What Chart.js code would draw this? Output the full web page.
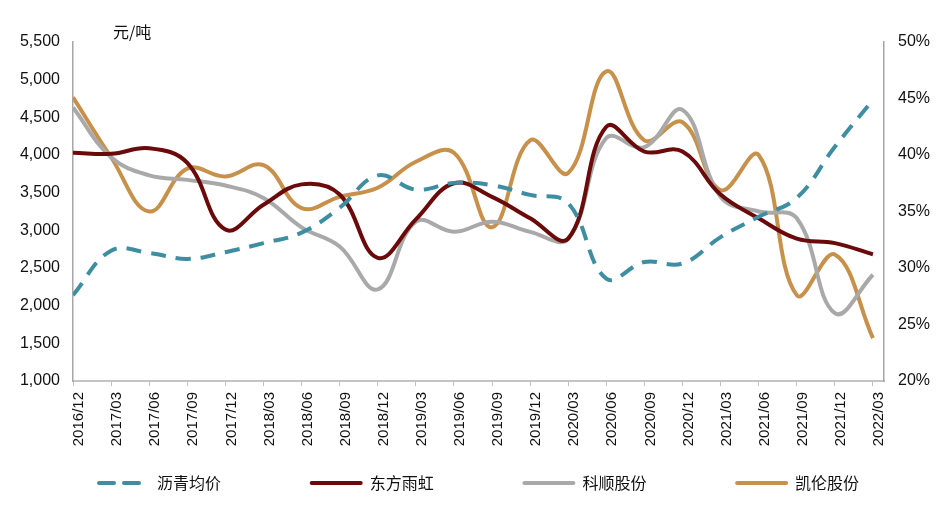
<!DOCTYPE html>
<html>
<head>
<meta charset="utf-8">
<script src="https://cdn.jsdelivr.net/npm/chart.js@4.4.1/dist/chart.umd.min.js"></script>
<style>
  body { margin: 0; background: #fff; }
  #contenedor { width: 947px; height: 506px; position: relative; }
</style>
</head>
<body>
<div id="contenedor"><canvas id="grafico"></canvas></div>
<script>
// Datos
const etiquetas = ['2016/12', '2017/03', '2017/06', '2017/09', '2017/12', '2018/03', '2018/06', '2018/09',
    '2018/12', '2019/03', '2019/06', '2019/09', '2019/12', '2020/03', '2020/06', '2020/09', '2020/12',
    '2021/03', '2021/06', '2021/09', '2021/12', '2022/03'];

const nombres = ['沥青均价', '东方雨虹', '科顺股份', '凯伦股份'];

// 元/吨, eje izquierdo
const precioAsfalto = [2140, 2730, 2700, 2620, 2710, 2830, 2970, 3300, 3730, 3540, 3630, 3600, 3470, 3360,
    2360, 2580, 2560, 2910, 3180, 3430, 4110, 4730];

// margen bruto %, eje derecho
const dongfangYuhong = [40.2, 40.1, 40.6, 39.3, 33.4, 35.6, 37.4, 36.5, 30.9, 34.3, 37.5, 36.3, 34.4, 32.6,
    42.5, 40.3, 40.3, 36.5, 34.4, 32.6, 32.2, 31.2];
const keshun = [44.2, 39.8, 38.2, 37.8, 37.3, 36.2, 33.6, 31.9, 28.1, 34.1, 33.2, 34.1, 33.2, 32.6,
    41.5, 40.7, 44.0, 36.3, 35.0, 34.4, 26.0, 29.4];
const kailun = [45.1, 39.8, 35.0, 38.8, 38.1, 39.1, 35.3, 36.3, 37.1, 39.4, 40.2, 33.6, 41.3, 38.4,
    47.4, 41.3, 42.9, 36.9, 40.0, 27.6, 31.2, 23.8];

const colores = ['#3d8ea2', '#6b0a0a', '#a9a9a9', '#c8914b'];

const fuenteLatina = "'Liberation Sans', Arial, sans-serif";
const fuenteCJK = "'Noto Sans CJK SC', sans-serif";

function puntos(arr) {
    return arr.map((v, i) => ({ x: i, y: v }));
}

// Texto de unidad y leyenda dibujados en el canvas
const pluginExtras = {
    id: 'extras',
    afterDraw(chart) {
        const ctx = chart.ctx;
        ctx.save();
        ctx.fillStyle = '#111';
        ctx.font = '16px ' + fuenteCJK;
        ctx.textBaseline = 'middle';
        ctx.textAlign = 'left';
        ctx.fillText('元/吨', 113, 32);

        chart.data.datasets.forEach((ds, i) => {
            const x0 = 97 + i * 212.7;
            const y = 483;
            ctx.beginPath();
            ctx.strokeStyle = ds.borderColor;
            ctx.lineWidth = 4;
            ctx.lineCap = 'round';
            ctx.setLineDash(ds.borderDash || []);
            ctx.moveTo(x0 + 2, y);
            ctx.lineTo(x0 + 51, y);
            ctx.stroke();
            ctx.setLineDash([]);
            ctx.fillStyle = '#111';
            ctx.fillText(ds.label, x0 + 60, y);
        });
        ctx.restore();
    }
};

const grafico = new Chart(document.getElementById('grafico'), {
    type: 'line',
    data: {
        datasets: [
            {
                label: nombres[0],
                data: puntos(precioAsfalto),
                yAxisID: 'y',
                borderColor: colores[0],
                borderDash: [15, 10],
                borderWidth: 4
            },
            {
                label: nombres[1],
                data: puntos(dongfangYuhong),
                yAxisID: 'y1',
                borderColor: colores[1],
                borderWidth: 4
            },
            {
                label: nombres[2],
                data: puntos(keshun),
                yAxisID: 'y1',
                borderColor: colores[2],
                borderWidth: 4
            },
            {
                label: nombres[3],
                data: puntos(kailun),
                yAxisID: 'y1',
                borderColor: colores[3],
                borderWidth: 4
            }
        ]
    },
    options: {
        responsive: true,
        maintainAspectRatio: false,
        animation: false,
        layout: { padding: { top: 42, left: 0, right: 0, bottom: 0 } },
        elements: {
            point: { radius: 0, hoverRadius: 0 },
            line: { tension: 0.4, fill: false }
        },
        scales: {
            x: {
                type: 'linear',
                min: 0,
                max: 21.29,
                afterBuildTicks: (scale) => {
                    scale.ticks = etiquetas.map((_, i) => ({ value: i }));
                },
                afterFit: (scale) => { scale.height = 125; },
                ticks: {
                    autoSkip: false,
                    maxRotation: 90,
                    minRotation: 90,
                    labelOffset: 6,
                    padding: 6,
                    color: '#111',
                    font: { family: fuenteLatina, size: 15 },
                    callback: (value) => etiquetas[value]
                },
                grid: {
                    drawOnChartArea: false,
                    drawTicks: true,
                    tickLength: 5,
                    color: '#bfbfbf'
                },
                border: { display: true, color: '#c4c4c4', width: 2 }
            },
            y: {
                position: 'left',
                min: 1000,
                max: 5500,
                afterBuildTicks: (scale) => {
                    const t = [];
                    for (let v = 1000; v <= 5500; v += 500) t.push({ value: v });
                    scale.ticks = t;
                },
                afterFit: (scale) => { scale.width = 73; },
                ticks: {
                    padding: 13,
                    color: '#111',
                    font: { family: fuenteLatina, size: 16 },
                    callback: (value) => value.toLocaleString('en-US')
                },
                grid: { display: true, drawOnChartArea: false, drawTicks: false },
                border: { display: true, color: '#a6a6a6', width: 1.5 }
            },
            y1: {
                position: 'right',
                min: 20,
                max: 50,
                afterBuildTicks: (scale) => {
                    const t = [];
                    for (let v = 20; v <= 50; v += 5) t.push({ value: v });
                    scale.ticks = t;
                },
                afterFit: (scale) => { scale.width = 63; },
                ticks: {
                    padding: 14,
                    color: '#111',
                    font: { family: fuenteLatina, size: 16 },
                    callback: (value) => value + '%'
                },
                grid: { display: true, drawOnChartArea: false, drawTicks: false },
                border: { display: true, color: '#a6a6a6', width: 1.5 }
            }
        },
        plugins: {
            legend: { display: false },
            tooltip: { enabled: false }
        }
    },
    plugins: [pluginExtras]
});
</script>
</body>
</html>
